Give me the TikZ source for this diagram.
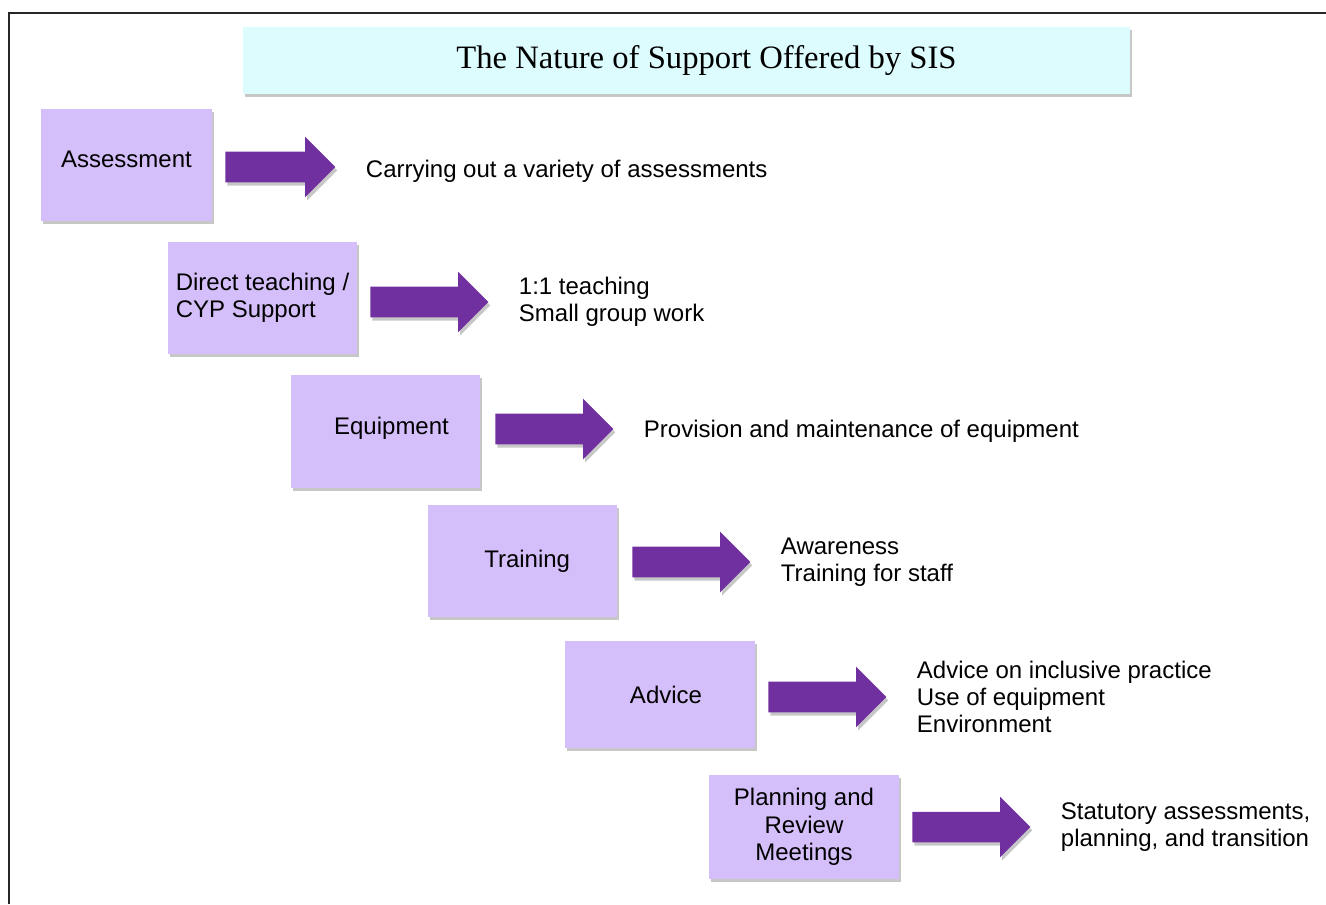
\documentclass[tikz,border=0pt]{standalone}
\usepackage{fontspec}
\setmainfont{Liberation Sans}
\newfontfamily\titlefont{Liberation Serif}
\usetikzlibrary{positioning}
\usetikzlibrary{shapes.arrows}
\usetikzlibrary{shadows}
\definecolor{boxlilac}{RGB}{213,191,250}
\definecolor{arrowpurple}{RGB}{112,48,160}
\definecolor{titlecyan}{RGB}{221,252,254}
\tikzstyle{boxshadow} = [drop shadow={shadow xshift=1.5pt, shadow yshift=-2.5pt, opacity=0.22, fill=black}]
\tikzstyle{titlenode} = [rectangle, fill=titlecyan, minimum width=665.25pt, minimum height=50.25pt, font=\titlefont\fontsize{24.5}{28}\selectfont, boxshadow]
\tikzstyle{topicnode} = [rectangle, fill=boxlilac, inner sep=0pt, minimum width=141.75pt, minimum height=84pt, align=center, font=\fontsize{18}{20.5}\selectfont, boxshadow]
\tikzstyle{arrownode} = [single arrow, fill=arrowpurple, single arrow head extend=11.25pt, single arrow head indent=0pt, text height=22.5pt, text depth=0pt, inner sep=0pt, minimum height=88.5pt, anchor=tail, boxshadow]
\tikzstyle{descnode} = [align=left, inner sep=0pt, font=\fontsize{18}{20.5}\selectfont]

\begin{document}
\begin{tikzpicture}[x=0.75pt, y=-0.75pt]
  \useasboundingbox (0,0) rectangle (1326,904);
  \draw[line width=1.2pt, black!85] (9,904) -- (9,13) -- (1326,13);

  \node[titlenode] (title) at (686.5,60.5) {\hspace*{30pt}The Nature of Support Offered by SIS};

  \node[topicnode, minimum width=128.25pt, text depth=9pt] (assess) at (126.5,165) {Assessment};
  \node[topicnode, align=left] (teach) at (262.5,297.5) {Direct teaching /\\CYP Support};
  \node[topicnode, minimum height=84.75pt, text depth=9pt] (equip) at (385.5,431.5) {\hspace*{9pt}Equipment};
  \node[topicnode] (train) at (522.5,561) {\hspace*{7pt}Training};
  \node[topicnode, minimum width=142.5pt, minimum height=80.25pt] (advice) at (660,694.5) {\hspace*{9pt}Advice};
  \node[topicnode, minimum width=142.5pt, minimum height=78pt] (plan) at (804,827) {Planning and\\Review\\Meetings};

  \node[arrownode, minimum height=82.5pt] (arrassess) at (225,167) {};
  \node[arrownode] (arrteach) at (370,302) {};
  \node[arrownode] (arrequip) at (495,429) {};
  \node[arrownode] (arrtrain) at (632,562) {};
  \node[arrownode] (arradvice) at (768,697) {};
  \node[arrownode] (arrplan) at (912,827) {};

  \node[descnode, right=22.5pt of arrassess, yshift=-3pt] (descassess) {Carrying out a variety of assessments};
  \node[descnode, right=22.5pt of arrteach] (descteach) {1:1 teaching\\Small group work};
  \node[descnode, right=22.5pt of arrequip, yshift=-2pt] (descequip) {Provision and maintenance of equipment};
  \node[descnode, right=22.5pt of arrtrain] (desctrain) {Awareness\\Training for staff};
  \node[descnode, right=22.5pt of arradvice] (descadvice) {Advice on inclusive practice\\Use of equipment\\Environment};
  \node[descnode, right=22.5pt of arrplan] (descplan) {Statutory assessments,\\planning, and transition};
\end{tikzpicture}
\end{document}
